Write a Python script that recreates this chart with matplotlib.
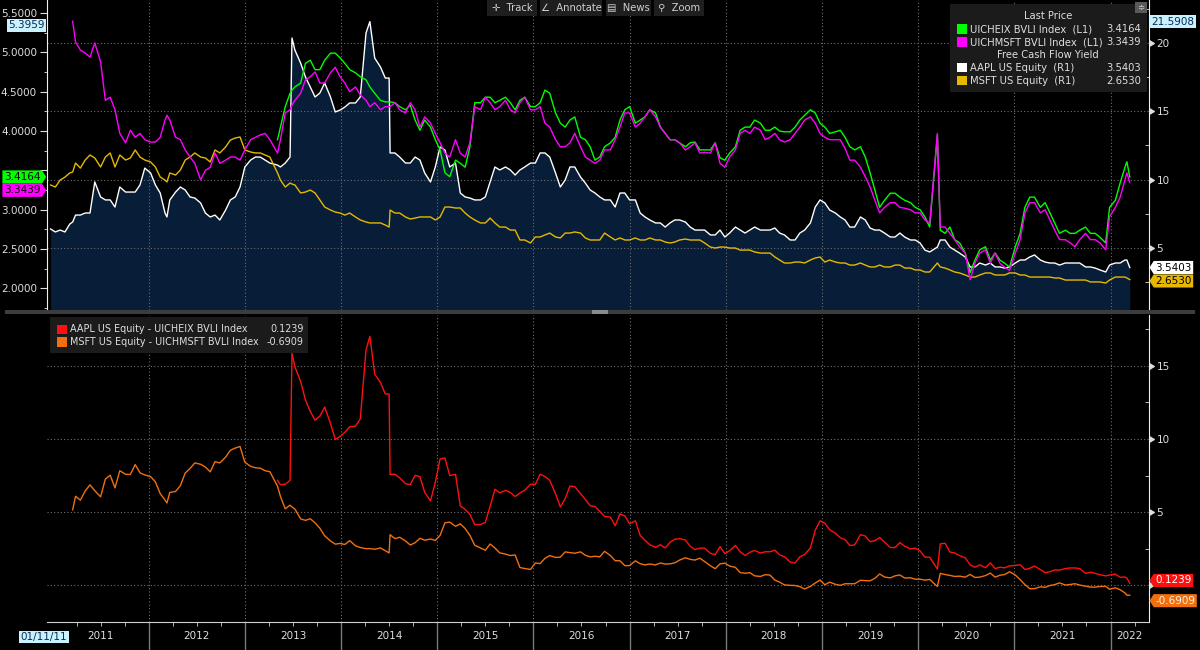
import numpy as np
import matplotlib.pyplot as plt
import matplotlib.transforms as mtransforms
from matplotlib.markers import CARETRIGHTBASE
from matplotlib.patches import Rectangle
from matplotlib.path import Path

nan = np.nan

# sample dates (decimal years)
dates = np.array([
    2010.98, 2011.03, 2011.08, 2011.13, 2011.18, 2011.21, 2011.24, 2011.29, 2011.34, 2011.39,
    2011.44, 2011.50, 2011.55, 2011.60, 2011.65, 2011.70, 2011.76, 2011.81, 2011.86, 2011.91,
    2011.96, 2012.02, 2012.07, 2012.12, 2012.17, 2012.19, 2012.22, 2012.28, 2012.33, 2012.38,
    2012.43, 2012.48, 2012.54, 2012.59, 2012.64, 2012.69, 2012.74, 2012.80, 2012.85, 2012.90,
    2012.95, 2013.00, 2013.06, 2013.11, 2013.16, 2013.21, 2013.26, 2013.34, 2013.37, 2013.42,
    2013.47, 2013.49, 2013.52, 2013.58, 2013.63, 2013.68, 2013.73, 2013.78, 2013.83, 2013.89,
    2013.94, 2013.99, 2014.04, 2014.09, 2014.15, 2014.20, 2014.26, 2014.30, 2014.35, 2014.41,
    2014.46, 2014.50, 2014.51, 2014.56, 2014.61, 2014.67, 2014.72, 2014.77, 2014.82, 2014.87,
    2014.93, 2014.98, 2015.03, 2015.08, 2015.13, 2015.19, 2015.24, 2015.29, 2015.34, 2015.39,
    2015.45, 2015.50, 2015.55, 2015.60, 2015.65, 2015.71, 2015.76, 2015.81, 2015.86, 2015.91,
    2015.97, 2016.02, 2016.07, 2016.12, 2016.17, 2016.23, 2016.28, 2016.33, 2016.38, 2016.43,
    2016.49, 2016.54, 2016.59, 2016.64, 2016.69, 2016.74, 2016.80, 2016.85, 2016.90, 2016.95,
    2017.00, 2017.06, 2017.11, 2017.16, 2017.21, 2017.27, 2017.32, 2017.37, 2017.42, 2017.47,
    2017.52, 2017.58, 2017.63, 2017.68, 2017.73, 2017.78, 2017.84, 2017.89, 2017.94, 2017.99,
    2018.04, 2018.10, 2018.15, 2018.20, 2018.25, 2018.30, 2018.36, 2018.41, 2018.46, 2018.51,
    2018.56, 2018.61, 2018.67, 2018.72, 2018.77, 2018.82, 2018.88, 2018.93, 2018.98, 2019.03,
    2019.08, 2019.14, 2019.19, 2019.24, 2019.29, 2019.34, 2019.40, 2019.45, 2019.50, 2019.55,
    2019.60, 2019.65, 2019.71, 2019.76, 2019.81, 2019.86, 2019.92, 2019.97, 2020.02, 2020.07,
    2020.12, 2020.20, 2020.23, 2020.28, 2020.33, 2020.38, 2020.43, 2020.49, 2020.54, 2020.59,
    2020.64, 2020.70, 2020.75, 2020.80, 2020.85, 2020.90, 2020.95, 2021.01, 2021.06, 2021.11,
    2021.16, 2021.21, 2021.27, 2021.32, 2021.37, 2021.42, 2021.47, 2021.53, 2021.58, 2021.63,
    2021.68, 2021.74, 2021.79, 2021.84, 2021.89, 2021.95, 2021.99, 2022.05, 2022.10, 2022.15,
    2022.17, 2022.20])

# Free cash flow yield, right axis (R1)
aapl_fcf = np.array([
    6.37, 6.15, 6.29, 6.15, 6.73, 6.88, 7.39, 7.39, 7.54, 7.54,
    9.82, 8.72, 8.50, 8.50, 7.98, 9.45, 9.08, 9.08, 9.08, 9.60,
    10.84, 10.48, 9.60, 9.01, 7.54, 7.25, 8.50, 9.08, 9.45, 9.23,
    8.72, 8.64, 8.28, 7.54, 7.25, 7.39, 7.03, 7.76, 8.50, 8.72,
    9.45, 10.92, 11.43, 11.65, 11.65, 11.43, 11.21, 11.06, 10.92, 11.21,
    11.65, 20.39, 19.51, 18.55, 17.53, 16.79, 16.06, 16.35, 17.09, 16.06,
    14.96, 15.10, 15.32, 15.62, 15.62, 16.06, 20.76, 21.5908, 18.92, 18.26,
    17.45, 17.45, 11.95, 11.95, 11.65, 11.21, 11.21, 11.65, 11.43, 10.48,
    9.82, 10.92, 12.39, 12.17, 10.92, 11.21, 9.01, 8.72, 8.64, 8.50,
    8.50, 8.72, 9.82, 10.92, 10.70, 10.92, 10.70, 10.33, 10.70, 10.92,
    11.21, 11.21, 11.95, 11.95, 11.65, 10.48, 9.45, 9.96, 10.92, 10.92,
    10.18, 9.74, 9.23, 9.01, 8.72, 8.50, 8.50, 7.98, 9.01, 9.01,
    8.50, 8.50, 7.54, 7.25, 7.03, 6.81, 6.81, 6.51, 6.81, 7.03,
    7.03, 6.88, 6.51, 6.29, 6.29, 6.29, 5.93, 5.93, 6.29, 5.78,
    6.07, 6.51, 6.29, 6.07, 6.29, 6.51, 6.29, 6.29, 6.29, 6.44,
    6.07, 5.93, 5.56, 5.56, 6.07, 6.29, 6.81, 7.98, 8.50, 8.28,
    7.76, 7.54, 7.25, 7.03, 6.51, 6.51, 7.25, 7.03, 6.44, 6.29,
    6.29, 6.07, 5.78, 5.78, 6.07, 5.78, 5.56, 5.56, 5.34, 4.82,
    4.68, 5.04, 5.56, 5.56, 5.04, 4.82, 4.60, 4.31, 3.58, 3.58,
    3.87, 3.72, 3.87, 3.58, 3.58, 3.50, 3.58, 3.87, 4.09, 4.09,
    4.31, 4.46, 4.09, 3.94, 3.87, 3.87, 3.72, 3.87, 3.87, 3.87,
    3.87, 3.58, 3.58, 3.50, 3.36, 3.21, 3.72, 3.87, 3.87, 4.09,
    4.09, 3.5403])

msft_fcf = np.array([
    9.60, 9.45, 9.96, 10.18, 10.48, 10.55, 11.21, 10.84, 11.43, 11.80,
    11.58, 10.92, 11.65, 11.95, 10.92, 11.80, 11.43, 11.58, 12.17, 11.65,
    11.43, 11.29, 10.92, 10.18, 9.96, 9.82, 10.48, 10.33, 10.70, 11.43,
    11.65, 11.95, 11.65, 11.58, 11.29, 12.17, 11.95, 12.39, 12.90, 13.05,
    13.12, 12.17, 12.02, 11.95, 11.95, 11.80, 11.65, 10.48, 9.96, 9.45,
    9.74, 9.67, 9.60, 9.01, 9.08, 9.23, 9.01, 8.50, 7.98, 7.76,
    7.61, 7.54, 7.39, 7.54, 7.25, 7.03, 6.88, 6.81, 6.81, 6.81,
    6.66, 6.51, 7.76, 7.54, 7.54, 7.25, 7.10, 7.17, 7.25, 7.25,
    7.25, 7.03, 7.25, 7.98, 7.98, 7.91, 7.91, 7.54, 7.25, 7.03,
    6.81, 6.81, 7.17, 6.81, 6.51, 6.51, 6.29, 6.29, 5.56, 5.56,
    5.34, 5.78, 5.78, 5.93, 6.07, 5.78, 5.71, 6.07, 6.07, 6.15,
    6.07, 5.71, 5.56, 5.56, 5.56, 6.07, 5.78, 5.56, 5.71, 5.56,
    5.56, 5.71, 5.56, 5.56, 5.71, 5.56, 5.56, 5.41, 5.34, 5.41,
    5.56, 5.63, 5.56, 5.56, 5.56, 5.34, 5.04, 4.97, 5.04, 5.04,
    4.97, 4.97, 4.82, 4.82, 4.82, 4.68, 4.60, 4.60, 4.60, 4.31,
    4.09, 3.87, 3.87, 3.94, 3.94, 3.87, 4.09, 4.24, 4.31, 3.94,
    4.09, 3.94, 3.87, 3.87, 3.72, 3.72, 3.87, 3.72, 3.58, 3.58,
    3.72, 3.58, 3.58, 3.72, 3.72, 3.50, 3.50, 3.36, 3.36, 3.21,
    3.21, 3.87, 3.58, 3.50, 3.36, 3.21, 3.14, 2.99, 2.84, 2.84,
    2.99, 3.14, 3.14, 2.99, 2.99, 2.99, 3.14, 3.14, 2.99, 2.99,
    2.84, 2.84, 2.84, 2.84, 2.84, 2.77, 2.77, 2.62, 2.62, 2.62,
    2.62, 2.62, 2.48, 2.48, 2.48, 2.40, 2.62, 2.84, 2.84, 2.84,
    2.77, 2.6530])

# BVLI index yields, left axis (L1)
uichmsft = np.array([
    nan, nan, nan, nan, nan, 5.3959, 5.13, 5.03, 4.99, 4.94,
    5.12, 4.88, 4.39, 4.43, 4.27, 3.97, 3.85, 4.01, 3.92, 3.97,
    3.89, 3.86, 3.86, 3.92, 4.14, 4.20, 4.14, 3.92, 3.89, 3.76,
    3.67, 3.59, 3.38, 3.50, 3.54, 3.72, 3.59, 3.63, 3.67, 3.67,
    3.63, 3.76, 3.89, 3.92, 3.95, 3.97, 3.89, 3.72, 3.89, 4.23,
    4.27, 4.33, 4.39, 4.48, 4.65, 4.69, 4.75, 4.61, 4.61, 4.74,
    4.81, 4.69, 4.61, 4.50, 4.56, 4.46, 4.39, 4.31, 4.36, 4.27,
    4.31, 4.31, 4.31, 4.36, 4.27, 4.23, 4.36, 4.27, 4.05, 4.18,
    4.10, 3.97, 3.85, 3.72, 3.67, 3.89, 3.72, 3.67, 3.85, 4.31,
    4.27, 4.43, 4.36, 4.27, 4.31, 4.39, 4.27, 4.23, 4.36, 4.43,
    4.27, 4.27, 4.31, 4.10, 4.05, 3.89, 3.80, 3.80, 3.85, 3.97,
    3.80, 3.67, 3.63, 3.59, 3.63, 3.76, 3.76, 3.89, 4.05, 4.23,
    4.23, 4.05, 4.10, 4.18, 4.27, 4.18, 4.05, 3.97, 3.89, 3.89,
    3.85, 3.76, 3.80, 3.85, 3.72, 3.73, 3.72, 3.85, 3.59, 3.54,
    3.67, 3.76, 3.97, 4.01, 3.97, 4.05, 4.01, 3.89, 3.92, 3.97,
    3.89, 3.86, 3.89, 3.97, 4.05, 4.14, 4.18, 4.10, 3.97, 3.92,
    3.89, 3.89, 3.89, 3.78, 3.63, 3.63, 3.54, 3.42, 3.29, 3.12,
    2.96, 3.03, 3.09, 3.09, 3.03, 3.02, 3.00, 2.96, 2.96, 2.87,
    2.83, 3.97, 2.78, 2.78, 2.70, 2.62, 2.53, 2.45, 2.11, 2.32,
    2.45, 2.49, 2.32, 2.45, 2.32, 2.27, 2.23, 2.45, 2.62, 2.96,
    3.09, 3.09, 2.96, 3.00, 2.87, 2.74, 2.62, 2.62, 2.58, 2.53,
    2.62, 2.70, 2.62, 2.62, 2.58, 2.49, 2.91, 3.03, 3.16, 3.38,
    3.47, 3.3439])

uicheix = np.array([
    nan, nan, nan, nan, nan, nan, nan, nan, nan, nan,
    nan, nan, nan, nan, nan, nan, nan, nan, nan, nan,
    nan, nan, nan, nan, nan, nan, nan, nan, nan, nan,
    nan, nan, nan, nan, nan, nan, nan, nan, nan, nan,
    nan, nan, nan, nan, nan, nan, nan, 3.89, 4.05, 4.31,
    4.48, 4.52, 4.56, 4.61, 4.86, 4.90, 4.78, 4.78, 4.90, 4.99,
    4.99, 4.93, 4.86, 4.78, 4.74, 4.69, 4.65, 4.56, 4.48, 4.39,
    4.37, 4.37, 4.37, 4.36, 4.31, 4.27, 4.33, 4.14, 4.01, 4.14,
    4.05, 3.89, 3.76, 3.47, 3.42, 3.63, 3.59, 3.54, 3.80, 4.36,
    4.36, 4.43, 4.43, 4.36, 4.39, 4.43, 4.36, 4.27, 4.39, 4.43,
    4.31, 4.31, 4.36, 4.52, 4.48, 4.23, 4.10, 4.05, 4.14, 4.18,
    3.92, 3.89, 3.80, 3.63, 3.67, 3.80, 3.85, 3.92, 4.14, 4.27,
    4.31, 4.10, 4.14, 4.18, 4.27, 4.23, 4.05, 3.97, 3.89, 3.89,
    3.85, 3.80, 3.85, 3.86, 3.76, 3.76, 3.76, 3.85, 3.66, 3.63,
    3.72, 3.80, 4.01, 4.05, 4.05, 4.14, 4.10, 4.01, 4.01, 4.05,
    4.00, 3.99, 3.99, 4.05, 4.14, 4.20, 4.27, 4.23, 4.10, 4.05,
    3.97, 3.99, 4.01, 3.92, 3.80, 3.76, 3.80, 3.67, 3.47, 3.25,
    3.03, 3.12, 3.21, 3.21, 3.16, 3.12, 3.09, 3.03, 3.00, 2.91,
    2.78, 3.95, 2.74, 2.70, 2.78, 2.62, 2.58, 2.45, 2.20, 2.36,
    2.49, 2.53, 2.36, 2.45, 2.36, 2.32, 2.27, 2.53, 2.70, 3.03,
    3.16, 3.16, 3.03, 3.09, 2.96, 2.83, 2.70, 2.74, 2.70, 2.70,
    2.74, 2.78, 2.70, 2.70, 2.65, 2.58, 3.03, 3.12, 3.34, 3.54,
    3.61, 3.4164])

assert len(dates) == len(aapl_fcf) == len(msft_fcf) == len(uichmsft) == len(uicheix)

# spreads shown in the lower panel: FCF yield minus bond yield
aapl_spread = aapl_fcf - uicheix
msft_spread = msft_fcf - uichmsft

year_marks = list(range(2012, 2023))
year_labels = list(range(2011, 2023))

C_GREEN = '#00ff00'
C_MAG = '#ff00ff'
C_WHITE = '#ffffff'
C_GOLD = '#e6b800'
C_RED = '#ff1010'
C_ORANGE = '#f07010'
C_FILL = '#071d38'
C_GRID = '#6e6e6e'
C_TXT = '#dedede'
C_CYAN = '#c8f2ff'

plt.rcParams['font.family'] = 'DejaVu Sans'
fig = plt.figure(figsize=(12, 6.5), dpi=100, facecolor='black')

W, H = 1200, 650


def fx(x):
    return x / W


def fy(y):
    return 1 - y / H


def tag_shape(side):
    def shape(x0, y0, width, height, mutation_size):
        pad = mutation_size * 0.15
        x0, y0 = x0 - pad, y0 - pad
        x1, y1 = x0 + width + 2 * pad, y0 + height + 2 * pad
        tip = (y1 - y0) * 0.32
        ym = (y0 + y1) / 2
        if side == 'right':
            verts = [(x0, y0), (x1, y0), (x1, y1), (x0, y1), (x0 - tip, ym), (x0, y0)]
        else:
            verts = [(x0, y0), (x1, y0), (x1 + tip, ym), (x1, y1), (x0, y1), (x0, y0)]
        return Path(verts, closed=True)
    return shape


def tag(ax, value, label, fc, tc, side, arrow=True, dy=0, z=20):
    tr = mtransforms.blended_transform_factory(ax.transAxes, ax.transData)
    style = tag_shape(side) if arrow else 'square,pad=0.15'
    off = 4.5 if arrow else 1.5
    if side == 'right':
        ax.annotate(label, xy=(1, value), xycoords=tr, xytext=(off, dy),
                    textcoords='offset points', ha='left', va='center',
                    fontsize=7.5, color=tc, zorder=z, annotation_clip=False,
                    bbox=dict(boxstyle=style, fc=fc, ec='none'))
    else:
        ax.annotate(label, xy=(0, value), xycoords=tr, xytext=(-off, dy),
                    textcoords='offset points', ha='right', va='center',
                    fontsize=7.5, color=tc, zorder=z, annotation_clip=False,
                    bbox=dict(boxstyle=style, fc=fc, ec='none'))


def caret_ticks(axis):
    for tk in axis.get_major_ticks():
        tk.tick2line.set_marker(CARETRIGHTBASE)
        tk.tick2line.set_markersize(4.5)


x_lo, x_hi = 2010.94, 2022.40
rect_top = [fx(46.7), fy(310), fx(1149 - 46.7), 310 / H]
rect_bot = [fx(46.7), fy(622), fx(1149 - 46.7), (622 - 315) / H]

# ---------------- upper panel ----------------
axR = fig.add_axes(rect_top)
axR.set_facecolor('black')
axL = axR.twinx()
axL.yaxis.tick_left()
axR.yaxis.tick_right()

axR.fill_between(dates, 0, aapl_fcf, color=C_FILL, lw=0, zorder=1)
axR.plot(dates, aapl_fcf, color=C_WHITE, lw=1.0, zorder=3)
axR.plot(dates, msft_fcf, color=C_GOLD, lw=1.0, zorder=3)
axL.plot(dates, uicheix, color=C_GREEN, lw=1.0, zorder=3)
axL.plot(dates, uichmsft, color=C_MAG, lw=1.0, zorder=4)

axR.set_xlim(x_lo, x_hi)
axR.set_ylim(0.42, 23.18)
axL.set_ylim(1.726, 5.665)

axR.set_xticks(year_marks)
axR.tick_params(axis='x', length=0, labelbottom=False)
axR.xaxis.grid(True, color=C_GRID, ls=(0, (1, 2)), lw=0.8)
axR.set_yticks([5, 10, 15, 20])
axR.set_yticks([2.5, 7.5, 12.5, 17.5, 22.5], minor=True)
axR.yaxis.grid(True, color=C_GRID, ls=(0, (1, 2)), lw=0.8)
axR.tick_params(axis='y', which='major', colors=C_TXT, labelsize=7.5, pad=1, length=4.5)
axR.tick_params(axis='y', which='minor', colors=C_TXT, direction='in', length=3)
caret_ticks(axR.yaxis)

axL.set_yticks(np.arange(2.0, 5.51, 0.5))
axL.set_yticks(np.arange(1.75, 5.6, 0.25), minor=True)
# the 3.5000 label sits under the last-price tags, as in the terminal
axL.yaxis.set_major_formatter(lambda v, p: '' if abs(v - 3.5) < 1e-6 else f'{v:.4f}')
axL.tick_params(axis='y', which='major', colors=C_TXT, labelsize=7.5, length=5, pad=2)
axL.tick_params(axis='y', which='minor', colors=C_TXT, length=2.5)
axL.tick_params(axis='x', length=0, labelbottom=False)

for a in (axR, axL):
    for s in a.spines.values():
        s.set_visible(False)
axR.spines['right'].set_visible(True)
axR.spines['right'].set_color('#f0f0f0')
axL.spines['left'].set_visible(True)
axL.spines['left'].set_color('#f0f0f0')

tag(axL, np.nanmax(uichmsft), f'{np.nanmax(uichmsft):.4f}', C_CYAN, '#0a2a50', 'left',
    arrow=False, dy=-3)
tag(axL, uichmsft[-1], f'{uichmsft[-1]:.4f}', C_MAG, 'black', 'left', dy=-5.5)
tag(axL, uicheix[-1], f'{uicheix[-1]:.4f}', C_GREEN, 'black', 'left', z=21)
tag(axR, np.nanmax(aapl_fcf), f'{np.nanmax(aapl_fcf):.4f}', C_CYAN, '#0a2a50', 'right', arrow=False)
tag(axR, aapl_fcf[-1], f'{aapl_fcf[-1]:.4f}', C_WHITE, 'black', 'right')
tag(axR, msft_fcf[-1], f'{msft_fcf[-1]:.4f}', C_GOLD, 'black', 'right', dy=-1)

# ---------------- lower panel ----------------
axB = fig.add_axes(rect_bot)
axB.set_facecolor('black')
axB.yaxis.tick_right()
axB.plot(dates, msft_spread, color=C_ORANGE, lw=1.0, zorder=3)
axB.plot(dates, aapl_spread, color=C_RED, lw=1.0, zorder=4)
axB.set_xlim(x_lo, x_hi)
axB.set_ylim(-2.53, 18.49)
axB.set_yticks([0, 5, 10, 15])
axB.set_yticks([2.5, 7.5, 12.5, 17.5], minor=True)
axB.yaxis.set_major_formatter(lambda v, p: '' if v == 0 else f'{v:g}')
axB.yaxis.grid(True, color=C_GRID, ls=(0, (1, 2)), lw=0.8)
axB.tick_params(axis='y', which='major', colors=C_TXT, labelsize=7.5, pad=1, length=4.5)
axB.tick_params(axis='y', which='minor', colors=C_TXT, direction='in', length=3)
caret_ticks(axB.yaxis)

axB.set_xticks(year_marks)
quarters = [y + q for y in range(2011, 2023) for q in (0.25, 0.5, 0.75) if x_lo < y + q < x_hi]
axB.set_xticks(quarters, minor=True)
axB.xaxis.grid(True, which='major', color=C_GRID, ls=(0, (1, 2)), lw=0.8)
axB.tick_params(axis='x', which='major', length=20, width=1, color='#7a7a7a', labelbottom=False)
axB.tick_params(axis='x', which='minor', length=3, color='#d0d0d0')
for s in axB.spines.values():
    s.set_visible(False)
axB.spines['right'].set_visible(True)
axB.spines['right'].set_color('#f0f0f0')
axB.spines['bottom'].set_visible(True)
axB.spines['bottom'].set_color('#d0d0d0')

trB = mtransforms.blended_transform_factory(axB.transData, axB.transAxes)
for yr in year_labels:
    mid = (max(yr, x_lo) + min(yr + 1, x_hi)) / 2
    axB.text(mid, -0.046, str(yr), transform=trB, ha='center', va='center',
             fontsize=7.5, color=C_TXT, clip_on=False)

tag(axB, aapl_spread[-1], f'{aapl_spread[-1]:.4f}', C_RED, 'white', 'right', dy=2)
tag(axB, msft_spread[-1], f'{msft_spread[-1]:.4f}', C_ORANGE, '#fff0e0', 'right', dy=-4)

fig.text(fx(44), fy(637), '01/11/11', ha='center', va='center', fontsize=7.5,
         color='#0a2a50', bbox=dict(boxstyle='square,pad=0.12', fc=C_CYAN, ec='none'))

# ---------------- legends ----------------
fig.patches.append(Rectangle((fx(950), fy(92)), fx(197), 88 / H, transform=fig.transFigure,
                             fc='#1b1b1b', ec='none', zorder=5))
fig.patches.append(Rectangle((fx(1135), fy(13)), fx(12), 11 / H, transform=fig.transFigure,
                             fc='#5a5a5a', ec='none', zorder=6))
fig.text(fx(1141), fy(8), '≑', ha='center', va='center', fontsize=6, color='#cfcfcf', zorder=7)

top_rows = [
    ('header', 'Last Price', None, None),
    ('row', 'UICHEIX BVLI Index  (L1)', f'{uicheix[-1]:.4f}', C_GREEN),
    ('row', 'UICHMSFT BVLI Index  (L1)', f'{uichmsft[-1]:.4f}', C_MAG),
    ('header', 'Free Cash Flow Yield', None, None),
    ('row', 'AAPL US Equity  (R1)', f'{aapl_fcf[-1]:.4f}', C_WHITE),
    ('row', 'MSFT US Equity  (R1)', f'{msft_fcf[-1]:.4f}', C_GOLD),
]
for i, (kind, name, val, col) in enumerate(top_rows):
    yy = 16.3 + i * 12.9
    if kind == 'header':
        fig.text(fx(1048), fy(yy), name, ha='center', va='center', fontsize=7.2, color=C_TXT, zorder=7)
    else:
        fig.patches.append(Rectangle((fx(957), fy(yy + 4.5)), fx(9.5), 9.5 / H,
                                     transform=fig.transFigure, fc=col, ec='none', zorder=7))
        fig.text(fx(970), fy(yy), name, ha='left', va='center', fontsize=7.2, color=C_TXT, zorder=7)
        fig.text(fx(1141), fy(yy), val, ha='right', va='center', fontsize=7.2, color=C_TXT, zorder=7)

fig.patches.append(Rectangle((fx(50), fy(353)), fx(258), 36 / H, transform=fig.transFigure,
                             fc='#1b1b1b', ec='none', zorder=5))
low_rows = [
    ('AAPL US Equity - UICHEIX BVLI Index', f'{aapl_spread[-1]:.4f}', C_RED),
    ('MSFT US Equity - UICHMSFT BVLI Index', f'{msft_spread[-1]:.4f}', C_ORANGE),
]
for i, (name, val, col) in enumerate(low_rows):
    yy = 329.5 + i * 12.9
    fig.patches.append(Rectangle((fx(57), fy(yy + 4.5)), fx(9.5), 9.5 / H,
                                 transform=fig.transFigure, fc=col, ec='none', zorder=7))
    fig.text(fx(70), fy(yy), name, ha='left', va='center', fontsize=6.9, color=C_TXT, zorder=7)
    fig.text(fx(304), fy(yy), val, ha='right', va='center', fontsize=6.9, color=C_TXT, zorder=7)

# ---------------- toolbar and separator ----------------
for label, cx, w in [('✛  Track', 512, 50), ('∠  Annotate', 571, 62),
                     ('▤  News', 628, 45), ('⚲  Zoom', 679, 50)]:
    fig.patches.append(Rectangle((fx(cx - w / 2), fy(16)), fx(w), 16 / H, transform=fig.transFigure,
                                 fc='#1e1e1e', ec='none', zorder=5))
    fig.text(fx(cx), fy(8), label, ha='center', va='center', fontsize=7.2, color='#cfcfcf', zorder=6)

fig.patches.append(Rectangle((fx(5), fy(314)), fx(1190), 4 / H, transform=fig.transFigure,
                             fc='#3c3c3c', ec='none', zorder=5))
fig.patches.append(Rectangle((fx(592), fy(314)), fx(16), 4 / H, transform=fig.transFigure,
                             fc='#8a8a8a', ec='none', zorder=6))

fig.savefig('out.png', dpi=100, facecolor='black')
